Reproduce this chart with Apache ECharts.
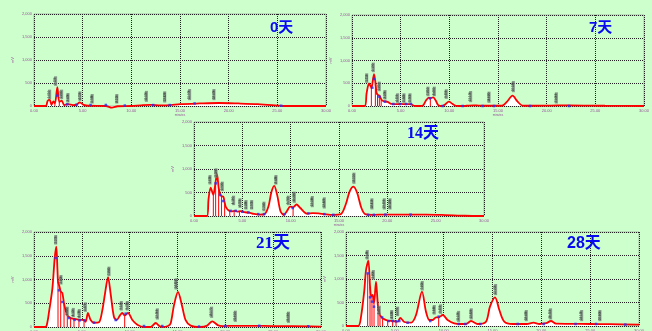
<!DOCTYPE html>
<html><head><meta charset="utf-8">
<script src="https://cdn.jsdelivr.net/npm/echarts@6/dist/echarts.min.js"></script>
<style>html,body{margin:0;padding:0;background:#ccffcc;}#c{width:652px;height:331px;}</style>
</head><body><div id="c"></div>
<script>
// ---- data (time in minutes, signal in mV) ----
const dayLabels = ['0天', '7天', '14天', '21天', '28天'];
const xTickValues = [0, 5, 10, 15, 20, 25, 30];
const yTickValues = [0, 500, 1000, 1500, 2000];

const day0Curve = [[0,0],[1.2,0],[1.4,110],[1.6,140],[1.8,30],[2.0,100],[2.15,55],[2.4,410],[2.6,90],[2.85,115],[3.1,20],[3.5,40],[4.0,20],[4.4,30],[4.7,80],[5.1,25],[5.6,5],[7.4,0],[8.0,-35],[8.6,-5],[10,0],[11,15],[12,25],[13,15],[14,20],[15,40],[17,55],[19,65],[21,55],[23,40],[25,10],[25.6,0],[30,0]];
const day7Curve = [[0,0],[1.3,0],[1.5,280],[1.75,495],[1.95,420],[2.0,390],[2.26,700],[2.4,530],[2.53,280],[2.67,245],[2.85,220],[3.05,130],[3.25,105],[3.45,100],[3.65,90],[4.05,45],[4.5,40],[5.0,45],[5.5,40],[6.0,40],[6.4,5],[7.0,0],[7.3,10],[7.6,120],[7.9,185],[8.05,170],[8.35,190],[8.6,120],[8.9,10],[9.3,0],[9.6,40],[9.95,95],[10.3,50],[10.7,5],[11.5,0],[12.0,10],[12.5,15],[13.0,10],[14.0,5],[15.4,5],[15.9,90],[16.5,227],[17.0,100],[17.5,10],[18.3,5],[20.5,10],[22.3,15],[26,5],[30,0]];
const day14Curve = [[0,0],[1.35,0],[1.5,350],[1.72,605],[2.0,450],[2.15,600],[2.38,890],[2.55,600],[2.69,480],[2.85,420],[3.03,410],[3.2,260],[3.3,190],[3.6,115],[3.9,100],[4.2,110],[4.5,95],[4.8,105],[5.2,80],[5.7,70],[6.2,45],[6.8,30],[7.3,40],[7.7,200],[8.0,500],[8.3,640],[8.6,450],[8.95,100],[9.3,20],[9.6,100],[9.95,200],[10.25,185],[10.6,245],[11.0,170],[11.7,50],[12.3,60],[12.9,55],[13.5,40],[14.4,25],[15.2,40],[15.7,250],[16.1,520],[16.5,625],[16.9,480],[17.3,180],[17.7,40],[18.5,25],[20,30],[22,30],[24,30],[26,20],[28,5],[30,0]];
const day21Curve = [[0,0],[1.2,0],[1.4,100],[1.57,316],[1.92,807],[2.16,1440],[2.33,1690],[2.45,1200],[2.51,950],[2.65,865],[2.79,750],[2.96,716],[3.14,490],[3.31,350],[3.48,246],[3.83,190],[4.18,170],[4.7,150],[5.23,147],[5.4,110],[5.64,295],[5.92,147],[6.27,90],[6.79,100],[7.14,350],[7.42,700],[7.74,1052],[8.01,700],[8.36,210],[8.64,147],[8.99,246],[9.23,295],[9.48,246],[9.83,295],[10.28,147],[10.8,49],[11.5,0],[12.2,0],[12.72,84],[13.1,20],[13.4,0],[14.0,20],[14.29,80],[14.63,456],[15.05,737],[15.5,421],[15.85,147],[16.38,30],[17.4,0],[18.1,30],[18.64,120],[19.2,40],[19.7,20],[21,25],[23,25],[25,20],[27,20],[30,10]];
const day28Curve = [[0,0],[1.25,0],[1.54,200],[1.88,766],[2.05,1190],[2.29,1390],[2.46,837],[2.59,624],[2.73,660],[2.87,482],[3.07,943],[3.28,411],[3.48,234],[3.75,163],[4.27,113],[4.78,106],[5.29,92],[5.56,170],[5.97,85],[6.66,70],[7.17,234],[7.78,731],[8.19,305],[8.53,128],[8.87,128],[9.22,184],[9.49,184],[9.9,234],[10.41,128],[11.09,57],[11.77,43],[12.29,43],[12.8,106],[13.48,43],[14.33,92],[14.74,411],[15.26,610],[15.7,340],[16.21,92],[17.06,43],[18.5,43],[19.2,70],[19.8,43],[20.5,60],[20.99,106],[21.5,50],[25,43],[27,40],[30,28]];

const day0DropTimes = [1.8, 2.15, 2.6, 3.1];
const day0DropValues = [30, 55, 90, 20];
const day7DropTimes = [1.99, 2.4, 2.62, 2.81, 3.0, 8.05];
const day7DropValues = [390, 530, 255, 220, 140, 170];
const day14DropTimes = [2.0, 2.24, 2.55, 2.85, 3.17, 3.7, 4.15, 4.7, 10.25];
const day14DropValues = [450, 700, 600, 420, 250, 110, 105, 100, 185];
const day21DropTimes = [2.51, 2.79, 3.14, 3.48, 3.83, 4.18, 4.7, 5.23, 9.48];
const day21DropValues = [950, 750, 490, 246, 190, 170, 150, 147, 246];
const day28DropTimes = [2.22, 2.46, 2.66, 2.87, 3.28, 3.48, 3.75, 4.27, 4.78, 5.12, 9.49];
const day28DropValues = [1121, 837, 640, 482, 411, 234, 163, 113, 106, 100, 184];

const day0Marks = [[2.39,225],[3.42,36],[4.37,29],[5.81,22],[7.38,22],[9.33,10],[12.24,20],[13.94,20],[16.5,55],[25.4,5]];
const day7Marks = [[2.09,403],[2.26,594],[2.81,205],[3.39,95],[4.25,44],[4.93,44],[5.55,44],[6.06,44],[8.01,169],[9.31,0],[11.37,0],[13.42,0],[14.59,0],[18.29,0],[22.3,0]];
const day14Marks = [[2.24,695],[2.69,447],[3.03,319],[3.79,110],[4.31,110],[5.0,90],[5.62,75],[6.65,40],[7.24,40],[9.34,40],[10.21,170],[11.83,55],[13.48,40],[14.41,25],[18.0,25],[18.6,25],[19.8,30],[22.4,30]];
const day21Marks = [[2.26,1452],[2.61,772],[2.96,526],[3.66,189],[4.25,150],[4.77,140],[5.3,140],[6.27,91],[8.54,147],[9.58,281],[11.5,20],[13.41,20],[17.25,10],[20.0,20],[23.55,25],[28.67,15]];
const day28Marks = [[2.22,1121],[2.46,610],[2.66,518],[2.87,411],[3.69,184],[4.37,106],[4.78,106],[5.12,100],[5.46,106],[6.31,70],[8.63,106],[9.49,199],[11.54,43],[12.22,43],[13.75,43],[17.58,43],[20.24,43],[23.5,43],[25.6,43],[28.6,30]];

const day0PeakTimes = [1.61,2.22,2.84,3.49,4.72,5.98,8.51,11.55,13.43,15.99,18.49];
const day0PeakLabelBase = [138,428,138,65,101,43,43,80,65,116,116];
const day7PeakTimes = [1.51,2.19,2.81,3.39,4.69,5.34,5.96,7.81,8.46,9.69,12.19,14.08,16.58,21.0];
const day7PeakLabelBase = [498,733,315,132,59,59,59,205,205,147,73,59,293,44];
const day14PeakTimes = [1.66,2.28,2.93,4.1,4.76,5.38,5.97,7.24,8.48,9.76,10.38,12.24,13.48,16.55,18.41,19.69,20.28];
const day14PeakLabelBase = [660,802,518,220,163,128,128,92,660,220,270,177,149,674,128,128,128];
const day21PeakTimes = [2.27,2.82,3.48,4.11,4.74,5.37,7.84,9.13,9.76,12.9,14.85,18.57,21.05,26.6];
const day21PeakLabelBase = [1726,884,217,196,168,309,1060,337,337,147,779,182,98,77];
const day28PeakTimes = [2.18,2.8,3.41,4.68,5.29,7.81,9.04,9.69,11.53,12.83,15.32,18.46,20.95,24.13,26.0];
const day28PeakLabelBase = [1404,979,220,128,199,745,234,248,78,128,646,92,128,92,92];

// ---- build ----
const curves = [day0Curve, day7Curve, day14Curve, day21Curve, day28Curve];
const dropTimes = [day0DropTimes, day7DropTimes, day14DropTimes, day21DropTimes, day28DropTimes];
const dropValues = [day0DropValues, day7DropValues, day14DropValues, day21DropValues, day28DropValues];
const marks = [day0Marks, day7Marks, day14Marks, day21Marks, day28Marks];
const peakTimes = [day0PeakTimes, day7PeakTimes, day14PeakTimes, day21PeakTimes, day28PeakTimes];
const peakBase = [day0PeakLabelBase, day7PeakLabelBase, day14PeakLabelBase, day21PeakLabelBase, day28PeakLabelBase];

const grids = [
  {left:34, top:14, width:292, height:92},
  {left:352, top:15, width:292, height:91},
  {left:194, top:122, width:290, height:94},
  {left:34, top:232, width:287, height:95},
  {left:346, top:232, width:293, height:94}
];
const titlePos = [
  {left:270, top:20, size:15, family:"'Liberation Sans','Noto Sans CJK SC'"},
  {left:589, top:20, size:15, family:"'Liberation Sans','Noto Sans CJK SC'"},
  {left:407, top:126, size:16, family:"'Liberation Serif','Noto Sans CJK SC'"},
  {left:256, top:235, size:17, family:"'Liberation Serif','Noto Sans CJK SC'"},
  {left:567, top:236, size:16, family:"'Liberation Sans','Noto Sans CJK SC'"}
];

const purple = '#9a4f9a';
const grid = [], xAxis = [], yAxis = [], series = [], graphic = [];
for (let i = 0; i < 5; i++) {
  grid.push(Object.assign({show:true, borderColor:'#a9bba9', borderWidth:1, backgroundColor:'transparent', containLabel:false, outerBoundsMode:'none'}, grids[i]));
  xAxis.push({
    type:'value', gridIndex:i, min:xTickValues[0], max:xTickValues[xTickValues.length-1], interval:xTickValues[1]-xTickValues[0],
    axisLine:{show:false}, axisTick:{show:false},
    axisLabel:{fontSize:4, color:purple, margin:3, formatter:v=>v.toFixed(2), fontFamily:'Liberation Sans'},
    splitLine:{show:true, lineStyle:{type:'dotted', color:'#222', width:1}},
    name:'minutes', nameLocation:'middle', nameGap:8, nameTextStyle:{fontSize:3, color:purple}
  });
  yAxis.push({
    type:'value', gridIndex:i, min:yTickValues[0], max:yTickValues[yTickValues.length-1], interval:yTickValues[1]-yTickValues[0],
    axisLine:{show:false}, axisTick:{show:false},
    axisLabel:{fontSize:4, color:purple, margin:2, fontFamily:'Liberation Sans'},
    splitLine:{show:true, lineStyle:{type:'dotted', color:'#222', width:1}},
    name:'mV', nameLocation:'middle', nameGap:19, nameRotate:90, nameTextStyle:{fontSize:4, color:purple}
  });
  series.push({
    type:'line', xAxisIndex:i, yAxisIndex:i, data:curves[i], smooth:0.3, symbol:'none', clip:false,
    lineStyle:{color:'#ff0000', width:1.8}, areaStyle:{color:'#ffffff', opacity:1}, z:3, silent:true
  });
  const dd = [];
  dropTimes[i].forEach((t, k) => { dd.push([t, 0], [t, dropValues[i][k]], [t, '-']); });
  series.push({
    type:'line', xAxisIndex:i, yAxisIndex:i, data:dd, symbol:'none', connectNulls:false,
    lineStyle:{color:'#ff0000', width:1}, z:4, silent:true
  });
  series.push({
    type:'scatter', xAxisIndex:i, yAxisIndex:i, data:marks[i], symbol:'rect', symbolSize:2.5,
    itemStyle:{color:'#2030ff'}, z:5, silent:true
  });
  series.push({
    type:'scatter', xAxisIndex:i, yAxisIndex:i,
    data:peakTimes[i].map((t, k) => [t, peakBase[i][k]]),
    symbolSize:1, itemStyle:{color:'rgba(0,0,0,0)'}, z:6, silent:true,
    label:{show:true, position:'top', distance:0, rotate:90, align:'left', verticalAlign:'middle',
      fontSize:3, lineHeight:3, color:'#111', backgroundColor:'#76827a', padding:[0,1],
      fontFamily:'Liberation Sans', formatter:p=>p.value[0].toFixed(3)}
  });
  graphic.push({
    type:'text', left:titlePos[i].left, top:titlePos[i].top, z:10,
    style:{text:dayLabels[i], fill:'#0a0af0', font:'bold ' + titlePos[i].size + 'px ' + titlePos[i].family}
  });
}

const chart = echarts.init(document.getElementById('c'), null, {renderer:'canvas'});
chart.setOption({backgroundColor:'#ccffcc', animation:false, grid, xAxis, yAxis, series, graphic});
</script>
</body></html>
